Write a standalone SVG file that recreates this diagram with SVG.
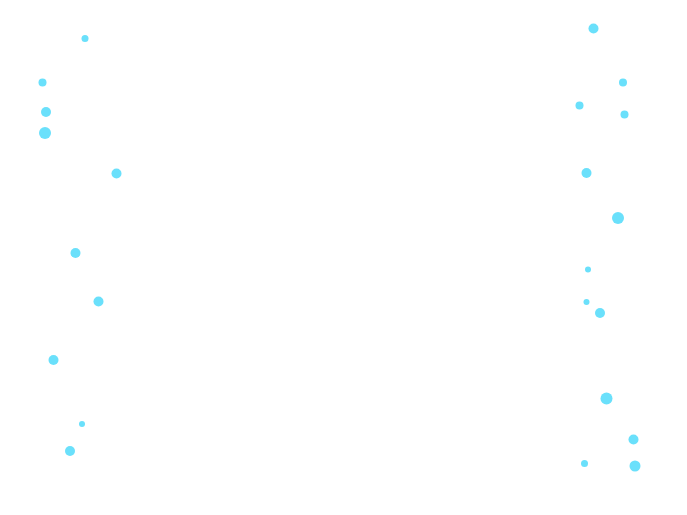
<svg xmlns="http://www.w3.org/2000/svg" width="687" height="515" viewBox="0 0 687 515">
<style>circle{fill:#6ae0fb}</style>
<rect width="687" height="515" fill="#fff"/>
<g id="dots-left">
<circle cx="85" cy="38.5" r="3.5"/><circle cx="42.5" cy="82.5" r="4"/><circle cx="46" cy="112" r="5"/><circle cx="45" cy="133" r="6"/><circle cx="116.5" cy="173.5" r="5"/><circle cx="75.5" cy="253" r="5"/><circle cx="98.5" cy="301.5" r="5"/><circle cx="53.5" cy="360" r="5"/><circle cx="82" cy="424" r="3"/><circle cx="70" cy="451" r="5"/>
</g>
<g id="dots-right">
<circle cx="593.5" cy="28.5" r="5"/><circle cx="623" cy="82.5" r="4"/><circle cx="579.5" cy="105.5" r="4"/><circle cx="624.5" cy="114.5" r="4"/><circle cx="586.5" cy="173" r="5"/><circle cx="618" cy="218" r="6"/><circle cx="588" cy="269.5" r="3"/><circle cx="586.5" cy="302" r="3"/><circle cx="600" cy="313" r="5"/><circle cx="606.5" cy="398.5" r="6"/><circle cx="633.5" cy="439.5" r="5"/><circle cx="584.5" cy="463.5" r="3.5"/><circle cx="635" cy="466" r="5.5"/>
</g>
</svg>
